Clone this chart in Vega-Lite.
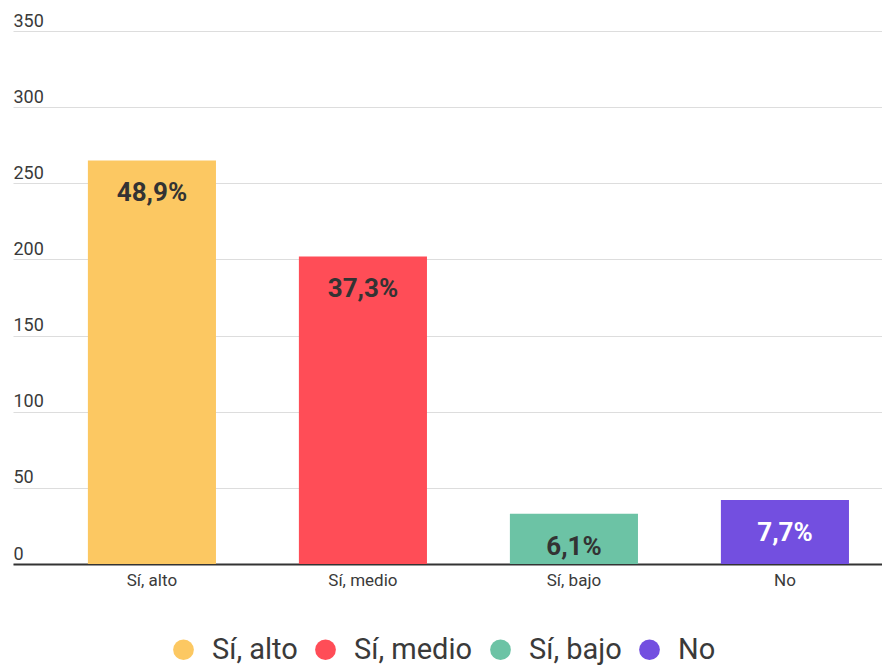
{
  "$schema": "https://vega.github.io/schema/vega-lite/v6.json",
  "autosize": "none",
  "width": 869,
  "height": 533,
  "padding": {"left": 13, "top": 31, "right": 0, "bottom": 101},
  "background": "white",
  "config": {
    "font": "Roboto",
    "view": {"stroke": null}
  },
  "data": {
    "values": [
      {"cat": "Sí, alto", "value": 265, "pct": "48,9%"},
      {"cat": "Sí, medio", "value": 202, "pct": "37,3%"},
      {"cat": "Sí, bajo", "value": 33, "pct": "6,1%"},
      {"cat": "No", "value": 42, "pct": "7,7%"}
    ]
  },
  "encoding": {
    "x": {
      "field": "cat",
      "type": "nominal",
      "sort": null,
      "scale": {"paddingInner": 0.393, "paddingOuter": 0.2557, "align": 0.694},
      "axis": {
        "title": null,
        "labelAngle": 0,
        "labelFont": "Roboto",
        "labelFontSize": 17,
        "labelColor": "#3a3a3a",
        "labelPadding": 8,
        "ticks": false,
        "domainColor": "#333333",
        "domainWidth": 2
      }
    },
    "y": {
      "field": "value",
      "type": "quantitative",
      "scale": {"domain": [0, 350]},
      "axis": {
        "title": null,
        "values": [0, 50, 100, 150, 200, 250, 300, 350],
        "domain": false,
        "ticks": false,
        "tickSize": 0,
        "labelAlign": "left",
        "labelBaseline": "alphabetic",
        "labelPadding": 0,
        "labelOffset": -5,
        "labelFont": "Roboto",
        "labelFontSize": 18,
        "labelColor": "#3a3a3a",
        "gridColor": "#dddddd",
        "gridWidth": 1
      }
    }
  },
  "layer": [
    {
      "mark": {"type": "bar"},
      "encoding": {
        "color": {
          "field": "cat",
          "type": "nominal",
          "sort": null,
          "scale": {
            "domain": ["Sí, alto", "Sí, medio", "Sí, bajo", "No"],
            "range": ["#FCC862", "#FF4D57", "#6CC3A5", "#734FE0"]
          },
          "legend": {
            "title": null,
            "orient": "none",
            "legendX": 156,
            "legendY": 604,
            "direction": "horizontal",
            "symbolType": "circle",
            "symbolSize": 430,
            "symbolStrokeWidth": 0,
            "labelFont": "Roboto",
            "labelFontSize": 29,
            "labelColor": "#3a3a3a",
            "labelOffset": 14,
            "columnPadding": 13
          }
        }
      }
    },
    {
      "mark": {"type": "text", "baseline": "middle", "dy": 33, "font": "Roboto", "fontWeight": "bold", "fontSize": 26},
      "encoding": {
        "text": {"field": "pct"},
        "color": {
          "condition": {"test": "datum.cat === 'No'", "value": "white"},
          "value": "#333333"
        }
      }
    }
  ]
}
